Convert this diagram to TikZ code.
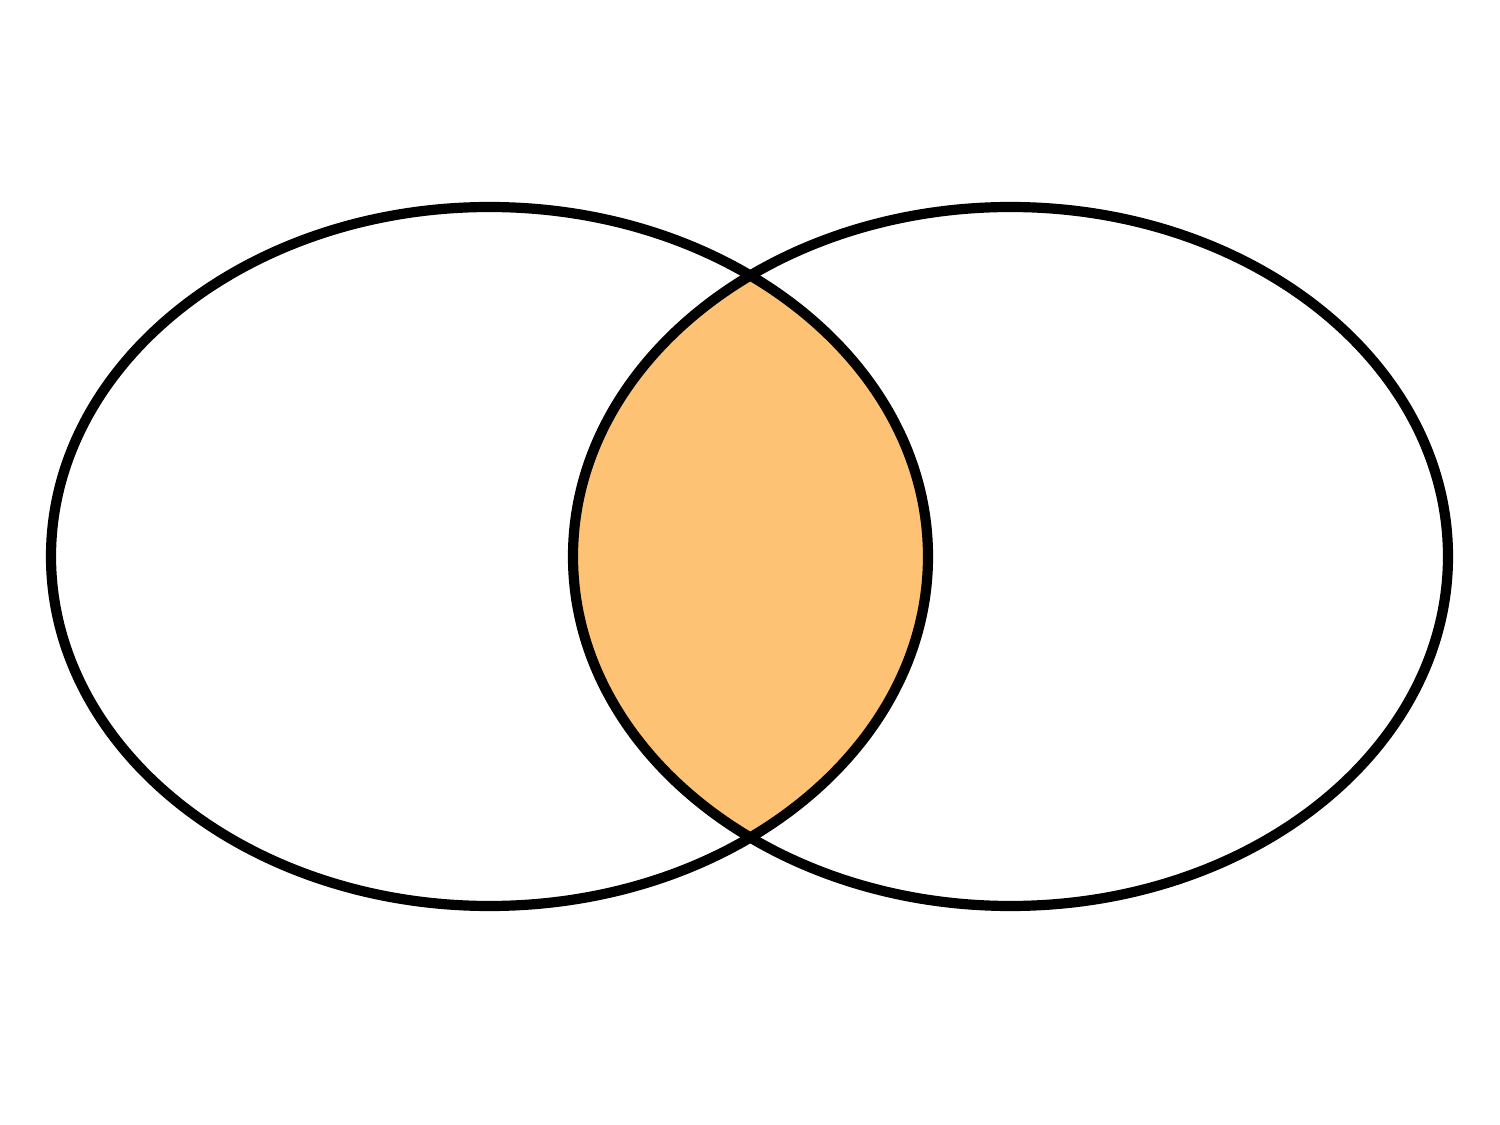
\documentclass[tikz,border=0pt]{standalone}
\definecolor{lensfill}{HTML}{FEC274}
\begin{document}
\begin{tikzpicture}[x=1cm,y=1cm,
  setline/.style={line width=2.9pt, draw=black}]
\useasboundingbox (0,0) rectangle (15,11.25);
\fill[white] (0,0) rectangle (15,11.25);
\begin{scope}
  \clip (4.895,5.685) ellipse [x radius=4.385, y radius=3.495];
  \fill[lensfill] (10.105,5.685) ellipse [x radius=4.375, y radius=3.495];
\end{scope}
\draw[setline] (4.895,5.685) ellipse [x radius=4.385, y radius=3.495];
\draw[setline] (10.105,5.685) ellipse [x radius=4.375, y radius=3.495];
\end{tikzpicture}
\end{document}
